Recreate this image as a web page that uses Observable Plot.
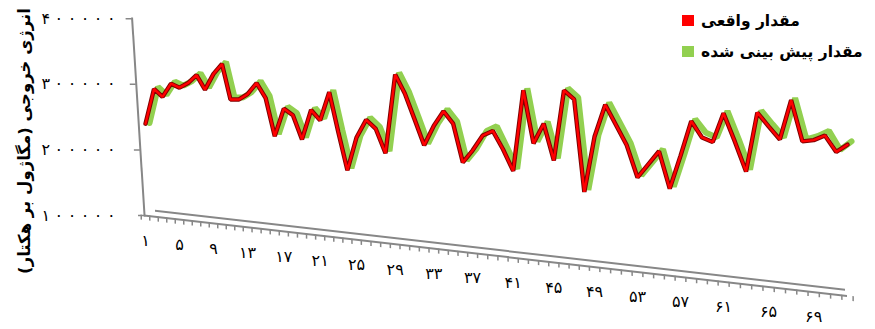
<!DOCTYPE html>
<html><head><meta charset="utf-8">
<script src="https://cdn.jsdelivr.net/npm/d3@7"></script>
<script src="https://cdn.jsdelivr.net/npm/@observablehq/plot@0.6"></script>
<style>
body{margin:0;background:#fff;}
#wrap{position:relative;width:875px;height:329px;font-family:"DejaVu Sans",sans-serif;}
#legend{position:absolute;left:682px;top:5px;}
.row{display:flex;align-items:center;height:31px;}
.sw{width:12px;height:11px;margin-right:7px;flex:none;}
.lt{font-weight:bold;font-size:15.5px;direction:rtl;white-space:nowrap;color:#000;}
</style></head><body>
<div id="wrap"><div id="legend"></div></div>
<script>
const categories = [1,2,3,4,5,6,7,8,9,10,11,12,13,14,15,16,17,18,19,20,21,22,23,24,25,26,27,28,29,30,31,32,33,34,35,36,37,38,39,40,41,42,43,44,45,46,47,48,49,50,51,52,53,54,55,56,57,58,59,60,61,62,63,64,65,66,67,68,69,70,71,72];
const actual = [240000,293000,281000,301000,295000,302000,314000,292000,316000,331000,277000,277000,285000,302000,279000,221000,263000,253000,216000,261000,245000,288000,227000,169000,219000,246000,232000,195000,315000,286000,247000,207000,237000,259000,240000,181000,199000,222000,229000,201000,168000,291000,210000,240000,184000,291000,277000,136000,220000,269000,238000,207000,158000,178000,198000,141000,191000,244000,219000,212000,256000,213000,167000,257000,236000,216000,276000,213000,215000,222000,197000,208000];
const predicted = [238000,293000,281000,301000,295000,302000,314000,292000,316000,331000,277000,277000,285000,302000,279000,221000,263000,253000,216000,261000,245000,288000,227000,169000,219000,246000,232000,195000,315000,286000,247000,207000,237000,259000,240000,181000,199000,226000,233000,201000,168000,291000,210000,240000,184000,291000,277000,136000,220000,269000,238000,207000,158000,178000,198000,141000,191000,244000,223000,216000,256000,213000,167000,257000,236000,216000,276000,213000,218000,226000,197000,210000];
const xTickValues = [1,5,9,13,17,21,25,29,33,37,41,45,49,53,57,61,65,69];
const xTickLabels = ["۱","۵","۹","۱۳","۱۷","۲۱","۲۵","۲۹","۳۳","۳۷","۴۱","۴۵","۴۹","۵۳","۵۷","۶۱","۶۵","۶۹"];
const yTickValues = [100000,200000,300000,400000];
const yTickLabels = ["۱۰۰۰۰۰","۲۰۰۰۰۰","۳۰۰۰۰۰","۴۰۰۰۰۰"];
const yTitle = "انرژی خروجی (مگاژول بر هکتار)";
const seriesNames = ["مقدار واقعی","مقدار پیش بینی شده"];
const seriesColors = ["#ff0000","#92d050"];

const rows = categories.map((c,i)=>({c, a: actual[i], p: predicted[i]}));
const boundaries = categories.map(c=>c-0.5).concat([categories[categories.length-1]+0.5]);
const xLabelMap = new Map(xTickValues.map((v,i)=>[v,xTickLabels[i]]));
const yLabelMap = new Map(yTickValues.map((v,i)=>[v,yTickLabels[i]]));
const gray = "#878787";

const chart = Plot.plot({
  width: 875, height: 329,
  marginLeft: 144, marginRight: 28, marginTop: 18, marginBottom: 114,
  style: {fontFamily: "'DejaVu Sans', sans-serif", background: "transparent", overflow: "visible"},
  x: {type: "linear", domain: [1,13,25,37,49,61,72], range: [145,247,356,472,594,723,847], label: null},
  y: {domain: [100000,400000], range: [215,18.3], label: null},
  marks: [
    Plot.frame({anchor: "left", stroke: gray, strokeWidth: 2}),
    Plot.axisY({ticks: yTickValues, tickSize: 6, tickFormat: () => "", stroke: gray, strokeWidth: 1.5, label: null}),
    Plot.axisY({ticks: yTickValues, tickSize: 0, tickPadding: 29, tickFormat: d => yLabelMap.get(d), fontSize: 16, fill: "#000", label: null}),
    Plot.ruleY([100000], {stroke: gray, strokeWidth: 2}),
    Plot.ruleY([100000], {stroke: gray, strokeWidth: 2, dy: -6, insetLeft: 11, insetRight: 2}),
    Plot.axisX({ticks: boundaries, tickSize: 5, tickFormat: () => "", stroke: gray, strokeWidth: 1.5, label: null}),
    Plot.axisX({ticks: xTickValues, tickSize: 0, tickPadding: 19, tickFormat: d => xLabelMap.get(d), fontSize: 16, fill: "#000", label: null}),
    Plot.text([yTitle], {text: d => d, frameAnchor: "left", textAnchor: "middle", rotate: -90, dx: -120, dy: 24, fontSize: 16.5, fontWeight: "bold", fill: "#000"}),
    Plot.line(rows, {x: "c", y: "p", stroke: seriesColors[1], strokeWidth: 6, dx: 4, dy: -2, strokeLinejoin: "miter"}),
    Plot.line(rows, {x: "c", y: "a", stroke: "#7f0000", strokeWidth: 4.4, strokeLinejoin: "miter"}),
    Plot.line(rows, {x: "c", y: "a", stroke: seriesColors[0], strokeWidth: 2.4, strokeLinejoin: "miter"})
  ]
});
const wrap = document.getElementById("wrap");
wrap.insertBefore(chart, wrap.firstChild);

// 3D-like floor and wall skew (post-render)
const svg = d3.select(chart);
const K = 0.1144, X0 = 144, K2 = 0.063, Y0 = 215;
const floorM = `matrix(1,${K},0,1,0,${-K*X0})`;
const wallM = `matrix(1,0,${K2},1,${-K2*Y0},0)`;
function pre(sel, m){ sel.each(function(){ const t = this.getAttribute("transform"); this.setAttribute("transform", m + (t ? " " + t : "")); }); }
pre(svg.selectAll('[aria-label="rule"]'), floorM);
pre(svg.selectAll('[aria-label="x-axis tick"]'), floorM);
pre(svg.selectAll('[aria-label="frame"]'), wallM);
pre(svg.selectAll('[aria-label="y-axis tick"]'), wallM);
svg.selectAll('[aria-label="x-axis tick label"] text').each(function(){
  const t = this.getAttribute("transform");
  const m = t && t.match(/translate\(\s*([-\d.e]+)/);
  const x = m ? +m[1] : +this.getAttribute("x");
  this.setAttribute("transform", `translate(0,${K*(x - X0)})` + (t ? " " + t : ""));
});
// widen the digit spacing of the y tick labels (letter-spacing is ignored for Arabic script)
svg.selectAll('[aria-label="y-axis tick label"] text').each(function(){
  const s = this.textContent;
  const el = d3.select(this);
  el.text(null);
  Array.from(s).forEach((ch, j) => {
    el.append("tspan").attr("dx", j ? 4.5 : 0).text(ch);
  });
});
svg.selectAll('[aria-label="text"] text').style("direction", "rtl");

// legend
const legend = d3.select("#legend");
seriesNames.forEach((n,i)=>{
  const r = legend.append("div").attr("class","row");
  r.append("div").attr("class","sw").style("background", seriesColors[i]);
  r.append("span").attr("class","lt").text(n);
});
</script>
</body></html>
